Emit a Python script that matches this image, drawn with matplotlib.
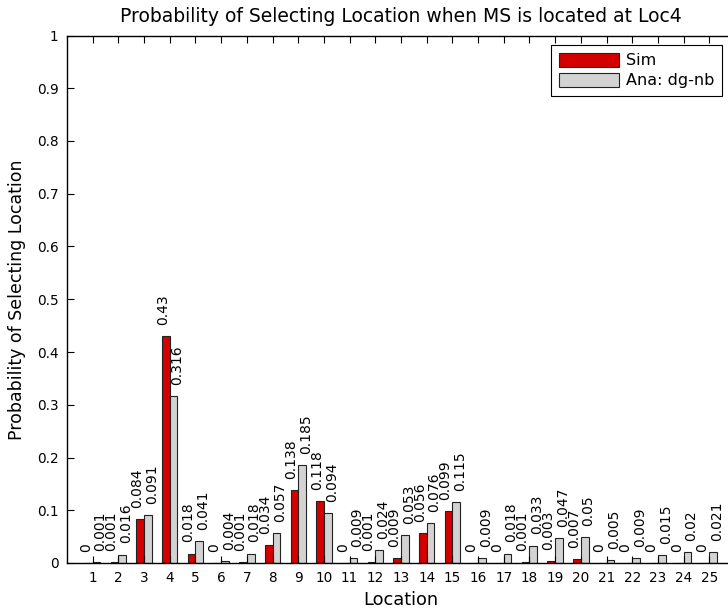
import numpy as np
import matplotlib.pyplot as plt

# selection probability per location, simulation vs analysis
locations = np.arange(1, 26)
sim = [0, 0.001, 0.084, 0.43, 0.018, 0, 0.001, 0.034, 0.138, 0.118,
       0, 0.001, 0.009, 0.056, 0.099, 0, 0, 0.001, 0.003, 0.007,
       0, 0, 0, 0, 0]
ana = [0.001, 0.016, 0.091, 0.316, 0.041, 0.004, 0.018, 0.057, 0.185, 0.094,
       0.009, 0.024, 0.053, 0.076, 0.115, 0.009, 0.018, 0.033, 0.047, 0.05,
       0.005, 0.009, 0.015, 0.02, 0.021]

plt.rcParams['font.family'] = ['DejaVu Sans']

fig = plt.figure(figsize=(7.28, 6.16), dpi=100)
ax = fig.add_axes([67 / 728, 53 / 616, 668 / 728, 527.5 / 616])

w = 0.3
ax.bar(locations - w / 2, sim, w, color='#d40000', edgecolor='#222222', linewidth=0.8, label='Sim')
ax.bar(locations + w / 2, ana, w, color='#d3d3d3', edgecolor='#222222', linewidth=0.8, label='Ana: dg-nb')

# value labels above each bar
for x, s, a in zip(locations, sim, ana):
    ax.annotate(f'{s:g}', (x - 0.27, s), xytext=(0, 8), textcoords='offset points',
                rotation=90, ha='center', va='bottom', fontsize=10)
    ax.annotate(f'{a:g}', (x + 0.3, a), xytext=(0, 8), textcoords='offset points',
                rotation=90, ha='center', va='bottom', fontsize=10)

ax.set_xlim(0, 26)
ax.set_ylim(0, 1)
ax.set_xticks(locations)
ax.set_yticks(np.arange(0, 1.01, 0.1))
ax.set_yticklabels(['0', '0.1', '0.2', '0.3', '0.4', '0.5', '0.6', '0.7', '0.8', '0.9', '1'])
ax.tick_params(direction='in', top=True, right=True, length=5, labelsize=9.8, pad=6)
for sp in ax.spines.values():
    sp.set_linewidth(1.0)

ax.set_xlabel('Location', fontsize=12.8, labelpad=4)
ax.set_ylabel('Probability of Selecting Location', fontsize=12.5, labelpad=8)
ax.set_title('Probability of Selecting Location when MS is located at Loc4', fontsize=13.5, pad=10)

leg = ax.legend(loc='upper right', bbox_to_anchor=(655 / 668, 0.982), fontsize=11.5,
                handlelength=3.75, handleheight=0.94, fancybox=False, framealpha=1,
                borderpad=0.5, labelspacing=0.3, handletextpad=0.4, borderaxespad=0)
leg.get_frame().set_edgecolor('black')
leg.get_frame().set_linewidth(0.8)

fig.savefig('out.png', dpi=100)
